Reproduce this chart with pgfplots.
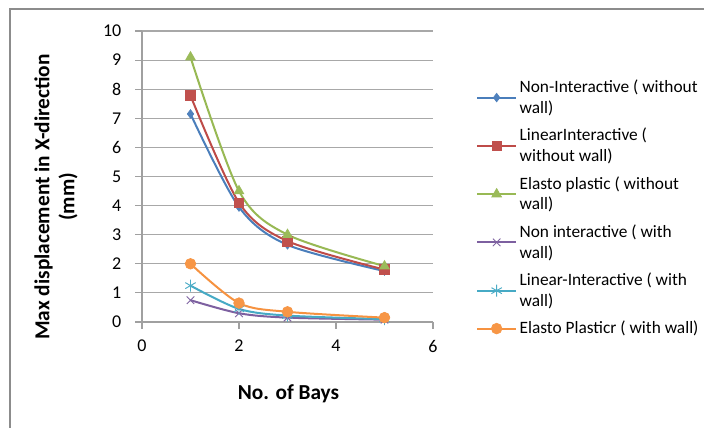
\documentclass[border=0pt]{standalone}
\usepackage{fontspec}
\setmainfont{Carlito}
\usepackage{pgfplots}
\pgfplotsset{compat=1.18}
\definecolor{cA}{HTML}{4A7EBB}
\definecolor{cAm}{HTML}{4F81BD}
\definecolor{cB}{HTML}{BE4B48}
\definecolor{cBm}{HTML}{C0504D}
\definecolor{cC}{HTML}{98B954}
\definecolor{cCm}{HTML}{9BBB59}
\definecolor{cD}{HTML}{7D60A0}
\definecolor{cDm}{HTML}{8064A2}
\definecolor{cE}{HTML}{46AAC5}
\definecolor{cEm}{HTML}{4BACC6}
\definecolor{cF}{HTML}{F69240}
\definecolor{cFm}{HTML}{F79646}
\definecolor{axgray}{HTML}{A0A0A0}
\definecolor{gridgray}{HTML}{A8A8A8}
\definecolor{bordergray}{HTML}{8C8C8C}
\begin{document}
\begin{tikzpicture}[x=1pt,y=1pt]
\path[use as bounding box] (0,0) rectangle (528,321);
\fill[white] (0,0) rectangle (528,321);
\draw[color=bordergray, line width=0.8pt] (7.5,-2) -- (7.5,314.25) -- (530,314.25);
\begin{axis}[
  at={(106.5pt,79.5pt)}, anchor=south west,
  scale only axis, width=218.25pt, height=218.25pt,
  xmin=0, xmax=6, ymin=0, ymax=10,
  xtick={0,2,4,6}, ytick={0,1,...,10},
  axis x line=bottom, axis y line=left,
  axis line style={-, color=axgray, line width=0.8pt},
  ymajorgrids, grid style={color=gridgray, line width=0.8pt},
  major tick style={color=axgray, line width=0.8pt},
  major tick length=5pt, tick align=outside,
  /pgf/number format/assume math mode=true,
  tick label style={font=\fontsize{13.5}{15.5}\selectfont, color=black},
  xticklabel style={yshift=-5pt},
  yticklabel style={xshift=-7pt},
  legend style={at={(1.148,0.842)}, anchor=north west, draw=none, fill=none,
    inner sep=0pt, row sep=5.7pt, font=\fontsize{13}{15.5}\selectfont,
    cells={anchor=west, align=left}},
  legend image code/.code={\draw[mark repeat=2,mark phase=2] plot coordinates {(0pt,0pt)(14.5pt,0pt)(29pt,0pt)};},
  every axis plot/.append style={line width=1.5pt},
]
\addplot[smooth, color=cA, mark=diamond*, mark size=3.2pt, mark options={fill=cAm, draw=cAm, line width=0.5pt}]
  coordinates {(1,7.15) (2,3.95) (3,2.65) (5,1.75)};
\addlegendentry{Non-Interactive ( without\\wall)}
\addplot[smooth, color=cB, mark=square*, mark size=3.6pt, mark options={fill=cBm, draw=cBm, line width=0.5pt}]
  coordinates {(1,7.78) (2,4.1) (3,2.78) (5,1.8)};
\addlegendentry{LinearInteractive (\\without wall)}
\addplot[smooth, color=cC, mark=triangle*, mark size=4.2pt, mark options={fill=cCm, draw=cCm, line width=0.5pt}]
  coordinates {(1,9.1) (2,4.5) (3,3.0) (5,1.92)};
\addlegendentry{Elasto plastic ( without\\wall)}
\addplot[smooth, color=cD, mark=x, mark size=4pt, mark options={draw=cDm, line width=0.7pt}]
  coordinates {(1,0.75) (2,0.3) (3,0.15) (5,0.08)};
\addlegendentry{Non interactive ( with\\wall)}
\addplot[smooth, color=cE, mark=asterisk, mark size=4.5pt, mark options={draw=cEm, line width=0.7pt}]
  coordinates {(1,1.25) (2,0.45) (3,0.22) (5,0.1)};
\addlegendentry{Linear-Interactive ( with\\wall)}
\addplot[smooth, color=cF, mark=*, mark size=4pt, mark options={fill=cFm, draw=cFm, line width=0.5pt}]
  coordinates {(1,2.0) (2,0.65) (3,0.35) (5,0.15)};
\addlegendentry{Elasto Plasticr ( with wall)}
\end{axis}
\node[rotate=90, align=center, font=\fontsize{16}{18.75}\selectfont\bfseries] at (41.9,173.25) {Max displacement in X-direction\\(mm)};
\node[font=\fontsize{16}{19}\selectfont\bfseries] at (216.4,25.5) {No. of Bays};
\end{tikzpicture}
\end{document}
